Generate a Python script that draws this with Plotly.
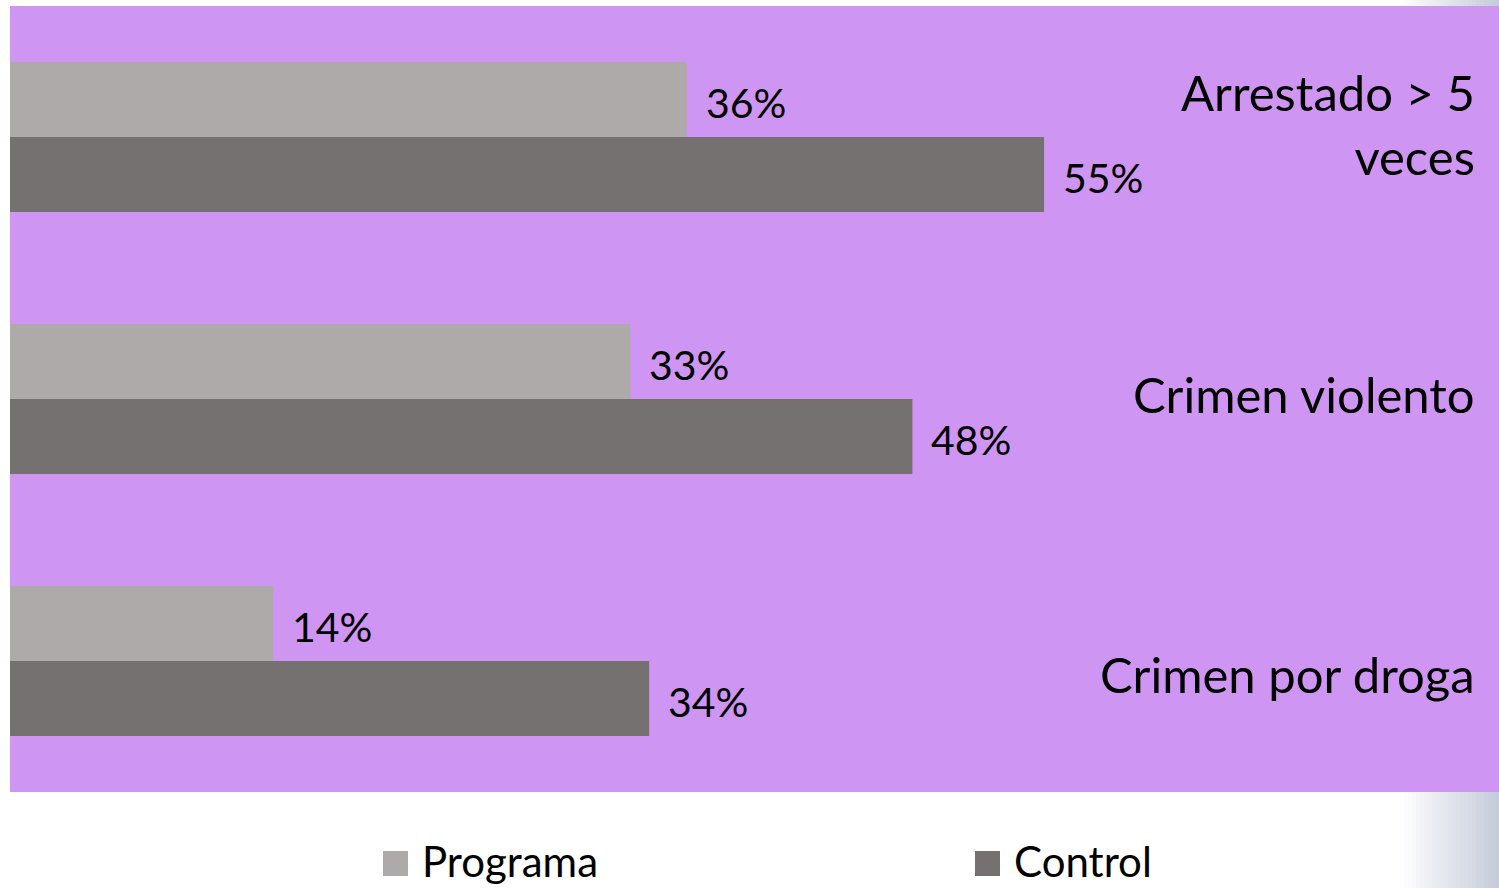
import plotly.graph_objects as go

# Data
categorias = ["Arrestado > 5<br>veces", "Crimen violento", "Crimen por droga"]
claves = ["arrestado", "violento", "droga"]
programa = [36, 33, 14]
control = [55, 48, 34]
series = ["Programa", "Control"]

COL_PROG = "#AEAAAA"
COL_CTRL = "#767171"
COL_BG = "#CF95F2"
FONT = "Lato"

W, H = 1499, 888
M_L, M_R, M_T, M_B = 10, 0, 6, 96
PLOT_H = H - M_T - M_B

fig = go.Figure()
fig.add_trace(go.Bar(y=claves, x=programa, orientation="h", name=series[0],
                     marker=dict(color=COL_PROG, line=dict(width=0)), showlegend=False))
fig.add_trace(go.Bar(y=claves, x=control, orientation="h", name=series[1],
                     marker=dict(color=COL_CTRL, line=dict(width=0)), showlegend=False))

# value labels beside each bar
bar_px = 75
for vals, dy in ((programa, bar_px / 2), (control, -bar_px / 2)):
    for k, v in zip(claves, vals):
        fig.add_annotation(x=v, y=k, xref="x", yref="y", text=f"{v}%",
                           showarrow=False, xanchor="left", yanchor="middle",
                           xshift=17, yshift=dy - 3,
                           font=dict(family=FONT, size=41, color="#000000"))

# category labels inside the plot, right aligned
shifts = [13, 5, -13]
for k, lab, s in zip(claves, categorias, shifts):
    fig.add_annotation(x=1, y=k, xref="paper", yref="y", text=lab,
                       showarrow=False, xanchor="right", yanchor="middle",
                       align="right", xshift=-22, yshift=s,
                       font=dict(family=FONT, size=49, color="#000000"))

# legend swatches and labels
def px_x(p):
    return (p - M_L) / (W - M_L - M_R)

def px_y(p):
    return (H - M_B - p) / PLOT_H

shapes = []
for name, col, x0 in ((series[0], COL_PROG, 383), (series[1], COL_CTRL, 975)):
    shapes.append(dict(type="rect", xref="paper", yref="paper",
                       x0=px_x(x0), x1=px_x(x0 + 25), y0=px_y(876), y1=px_y(851),
                       fillcolor=col, line=dict(width=0)))
    fig.add_annotation(x=px_x(x0 + 37), y=px_y(861), xref="paper", yref="paper",
                       text=name, showarrow=False, xanchor="left", yanchor="middle",
                       font=dict(family=FONT, size=42, color="#000000"))

# soft bluish gradient at the right edge of the page
n = 25
gx0, gx1 = 1400, 1499
for i in range(n):
    t = (i + 0.5) / n
    r = round(255 + (195 - 255) * t)
    g = round(255 + (202 - 255) * t)
    b = round(255 + (217 - 255) * t)
    c = f"rgb({r},{g},{b})"
    xa = gx0 + (gx1 - gx0) * i / n
    xb = gx0 + (gx1 - gx0) * (i + 1) / n + 0.5
    for ya, yb in ((H, H - M_B), (M_T, 0)):
        shapes.append(dict(type="rect", xref="paper", yref="paper", layer="below",
                           x0=px_x(xa), x1=px_x(xb), y0=px_y(ya), y1=px_y(yb),
                           fillcolor=c, line=dict(width=0)))

fig.update_layout(
    width=W, height=H,
    margin=dict(l=M_L, r=M_R, t=M_T, b=M_B, pad=0),
    barmode="group", bargap=0.427, bargroupgap=0,
    paper_bgcolor="#FFFFFF", plot_bgcolor=COL_BG,
    shapes=shapes,
    showlegend=False,
    xaxis=dict(range=[0, 79.2], showgrid=False, zeroline=False,
               showticklabels=False, ticks="", fixedrange=True),
    yaxis=dict(categoryorder="array", categoryarray=claves, autorange="reversed",
               showgrid=False, zeroline=False, showticklabels=False, ticks=""),
    font=dict(family=FONT),
)

fig.write_html("out.html")
